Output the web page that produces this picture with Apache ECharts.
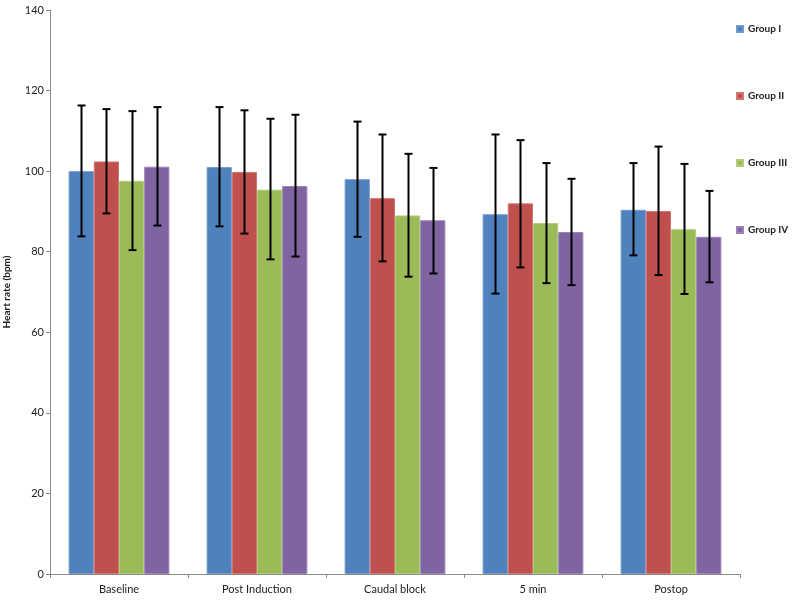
<!DOCTYPE html>
<html>
<head>
<meta charset="utf-8">
<script src="https://cdn.jsdelivr.net/npm/echarts@6/dist/echarts.min.js"></script>
<style>html,body{margin:0;padding:0;background:#fff}#c{width:792px;height:600px}</style>
</head>
<body>
<div id="c"></div>
<script>
var categories = ['Baseline', 'Post Induction', 'Caudal block', '5 min', 'Postop'];
var groupNames = ['Group I', 'Group II', 'Group III', 'Group IV'];
var groupI   = [100.0, 101.0, 98.0, 89.3, 90.4];
var groupII  = [102.4, 99.8, 93.3, 92.0, 90.1];
var groupIII = [97.6, 95.4, 89.0, 87.1, 85.6];
var groupIV  = [101.1, 96.3, 87.8, 84.9, 83.7];
var groupIHigh   = [116.3, 115.9, 112.3, 109.1, 102.0];
var groupILow    = [83.8, 86.3, 83.7, 69.6, 79.1];
var groupIIHigh  = [115.4, 115.1, 109.1, 107.7, 106.1];
var groupIILow   = [89.5, 84.5, 77.6, 76.1, 74.2];
var groupIIIHigh = [114.9, 113.0, 104.3, 102.0, 101.8];
var groupIIILow  = [80.4, 78.1, 73.8, 72.2, 69.5];
var groupIVHigh  = [115.9, 114.0, 100.8, 98.1, 95.1];
var groupIVLow   = [86.5, 78.8, 74.6, 71.7, 72.4];
var yTicks = [0, 20, 40, 60, 80, 100, 120, 140];

var values = [groupI, groupII, groupIII, groupIV];
var highs = [groupIHigh, groupIIHigh, groupIIIHigh, groupIVHigh];
var lows = [groupILow, groupIILow, groupIIILow, groupIVLow];
var colors = ['#4F81BD', '#C0504D', '#9BBB59', '#8064A2'];
var borders = ['#6E9AD0', '#D47370', '#B1CD7A', '#9A82B8'];
var catGap = 0.27;
var font = 'Lato, "Open Sans", sans-serif';

var series = [];
groupNames.forEach(function (n, i) {
  series.push({
    name: n, type: 'bar', data: values[i], barGap: 0, barCategoryGap: (catGap * 100) + '%',
    itemStyle: { color: colors[i], borderColor: borders[i], borderWidth: 1 }
  });
});
groupNames.forEach(function (n, i) {
  var d = categories.map(function (c, k) { return [k, lows[i][k], highs[i][k]]; });
  series.push({
    name: n + ' err', type: 'custom', z: 10, data: d,
    encode: { x: 0, y: [1, 2] },
    renderItem: function (params, api) {
      var k = api.value(0);
      var top = api.coord([k, api.value(2)]);
      var bot = api.coord([k, api.value(1)]);
      var catW = api.size([1, 0])[0];
      var barW = catW * (1 - catGap) / 4;
      var x = Math.round(top[0] + (i - 1.5) * barW) + 0.5;
      var cap = 4;
      var st = { stroke: '#000', lineWidth: 2 };
      return { type: 'group', children: [
        { type: 'line', shape: { x1: x, y1: top[1], x2: x, y2: bot[1] }, style: st },
        { type: 'line', shape: { x1: x - cap, y1: top[1], x2: x + cap, y2: top[1] }, style: st },
        { type: 'line', shape: { x1: x - cap, y1: bot[1], x2: x + cap, y2: bot[1] }, style: st }
      ]};
    }
  });
});

var chart = echarts.init(document.getElementById('c'), null, { renderer: 'canvas' });
chart.setOption({
  animation: false,
  backgroundColor: '#fff',
  grid: { left: 50, right: 52, top: 10, bottom: 26, containLabel: false, outerBoundsMode: 'none' },
  legend: {
    data: groupNames, orient: 'vertical', left: 731, top: 18,
    itemWidth: 6, itemHeight: 6, itemGap: 55, icon: 'rect',
    textStyle: { fontFamily: font, fontSize: 10, fontWeight: 'bold', color: '#222', lineHeight: 12 }
  },
  xAxis: {
    type: 'category', data: categories,
    axisLine: { lineStyle: { color: '#8c8c8c', width: 1 } },
    axisTick: { show: true, alignWithLabel: false, length: 4, lineStyle: { color: '#8c8c8c' } },
    axisLabel: { fontFamily: font, fontSize: 11, color: '#222', margin: 10 }
  },
  yAxis: {
    type: 'value', min: yTicks[0], max: yTicks[yTicks.length - 1], interval: 20,
    name: 'Heart rate (bpm)', nameLocation: 'middle', nameGap: 38,
    nameTextStyle: { fontFamily: font, fontSize: 10, fontWeight: 'bold', color: '#222' },
    axisLine: { show: true, lineStyle: { color: '#8c8c8c', width: 1 } },
    axisTick: { show: true, length: 4, lineStyle: { color: '#8c8c8c' } },
    axisLabel: { fontFamily: font, fontSize: 11, color: '#222', margin: 6 },
    splitLine: { show: false }
  },
  series: series
});
</script>
</body>
</html>
